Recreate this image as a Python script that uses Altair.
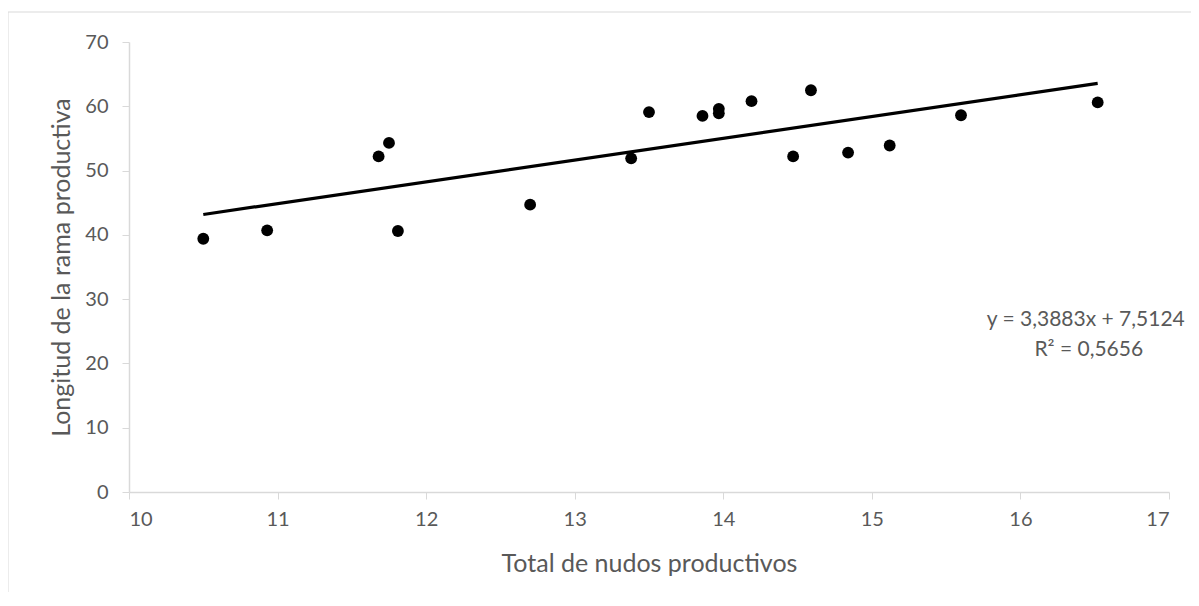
import altair as alt
import pandas as pd

# Data
nudos = [10.50, 10.93, 11.68, 11.75, 11.81, 12.70, 13.38, 13.50, 13.86,
         13.97, 13.97, 14.19, 14.47, 14.59, 14.84, 15.12, 15.60, 16.52]
longitud = [39.4, 40.7, 52.2, 54.3, 40.6, 44.7, 51.9, 59.1, 58.5,
            59.6, 58.9, 60.8, 52.2, 62.5, 52.8, 53.9, 58.6, 60.6]

eq_lines = ["y = 3,3883x + 7,5124", "R² = 0,5656"]
eq_x = [16.44, 16.46]
eq_y = [26.8, 22.1]

x_ticks = [10, 11, 12, 13, 14, 15, 16, 17]
y_ticks = [0, 10, 20, 30, 40, 50, 60, 70]

FONT = "Lato"
GRAY = "#595959"
AXIS = "#d9d9d9"

df = pd.DataFrame({"x": nudos, "y": longitud})
eq_df = pd.DataFrame({"label": eq_lines, "x": eq_x, "y": eq_y})

xscale = alt.Scale(domain=[10, 17], nice=False, zero=False)
yscale = alt.Scale(domain=[0, 70], nice=False)

xaxis = alt.Axis(values=x_ticks, format="d", title="Total de nudos productivos", grid=False,
                 domainColor=AXIS, tickColor=AXIS, tickSize=7, domainWidth=1.5,
                 labelColor=GRAY, labelFontSize=20, labelFont=FONT, labelPadding=10,
                 titleColor=GRAY, titleFontSize=25, titleFont=FONT, titleFontWeight="normal",
                 titleX=520, titleY=71, titleAlign="center", titleBaseline="middle")
yaxis = alt.Axis(values=y_ticks, format="d", title="Longitud de la rama productiva", grid=False,
                 domainColor=AXIS, tickColor=AXIS, tickSize=7, domainWidth=1.5,
                 labelColor=GRAY, labelFontSize=20, labelFont=FONT, labelPadding=14,
                 titleColor=GRAY, titleFontSize=25, titleFont=FONT, titleFontWeight="normal",
                 titleX=-68, titleY=225, titleAlign="center", titleBaseline="middle")

base = alt.Chart(df)

points = base.mark_circle(size=140, color="black", opacity=1).encode(
    x=alt.X("x:Q", scale=xscale, axis=xaxis),
    y=alt.Y("y:Q", scale=yscale, axis=yaxis),
)

trend = base.transform_regression("x", "y").mark_line(color="black", strokeWidth=3.2).encode(
    x=alt.X("x:Q", scale=xscale),
    y=alt.Y("y:Q", scale=yscale),
)

eq = alt.Chart(eq_df).mark_text(font=FONT, fontSize=21, color=GRAY, align="center",
                                baseline="middle").encode(
    x=alt.X("x:Q", scale=xscale),
    y=alt.Y("y:Q", scale=yscale),
    text="label:N",
)

frame = alt.Chart(pd.DataFrame({"a": [0]})).mark_rect(
    fill=None, stroke=AXIS, strokeWidth=1
).encode(x=alt.value(-121), x2=alt.value(1300), y=alt.value(-30), y2=alt.value(800))

chart = alt.layer(frame, trend, points, eq).properties(
    width=1040, height=450,
    autosize=alt.AutoSizeParams(type="none"),
    padding={"left": 121, "top": 34, "right": 22, "bottom": 100},
).configure_view(stroke=None)

chart.save("out.html", embed_options={"renderer": "svg", "actions": False})
